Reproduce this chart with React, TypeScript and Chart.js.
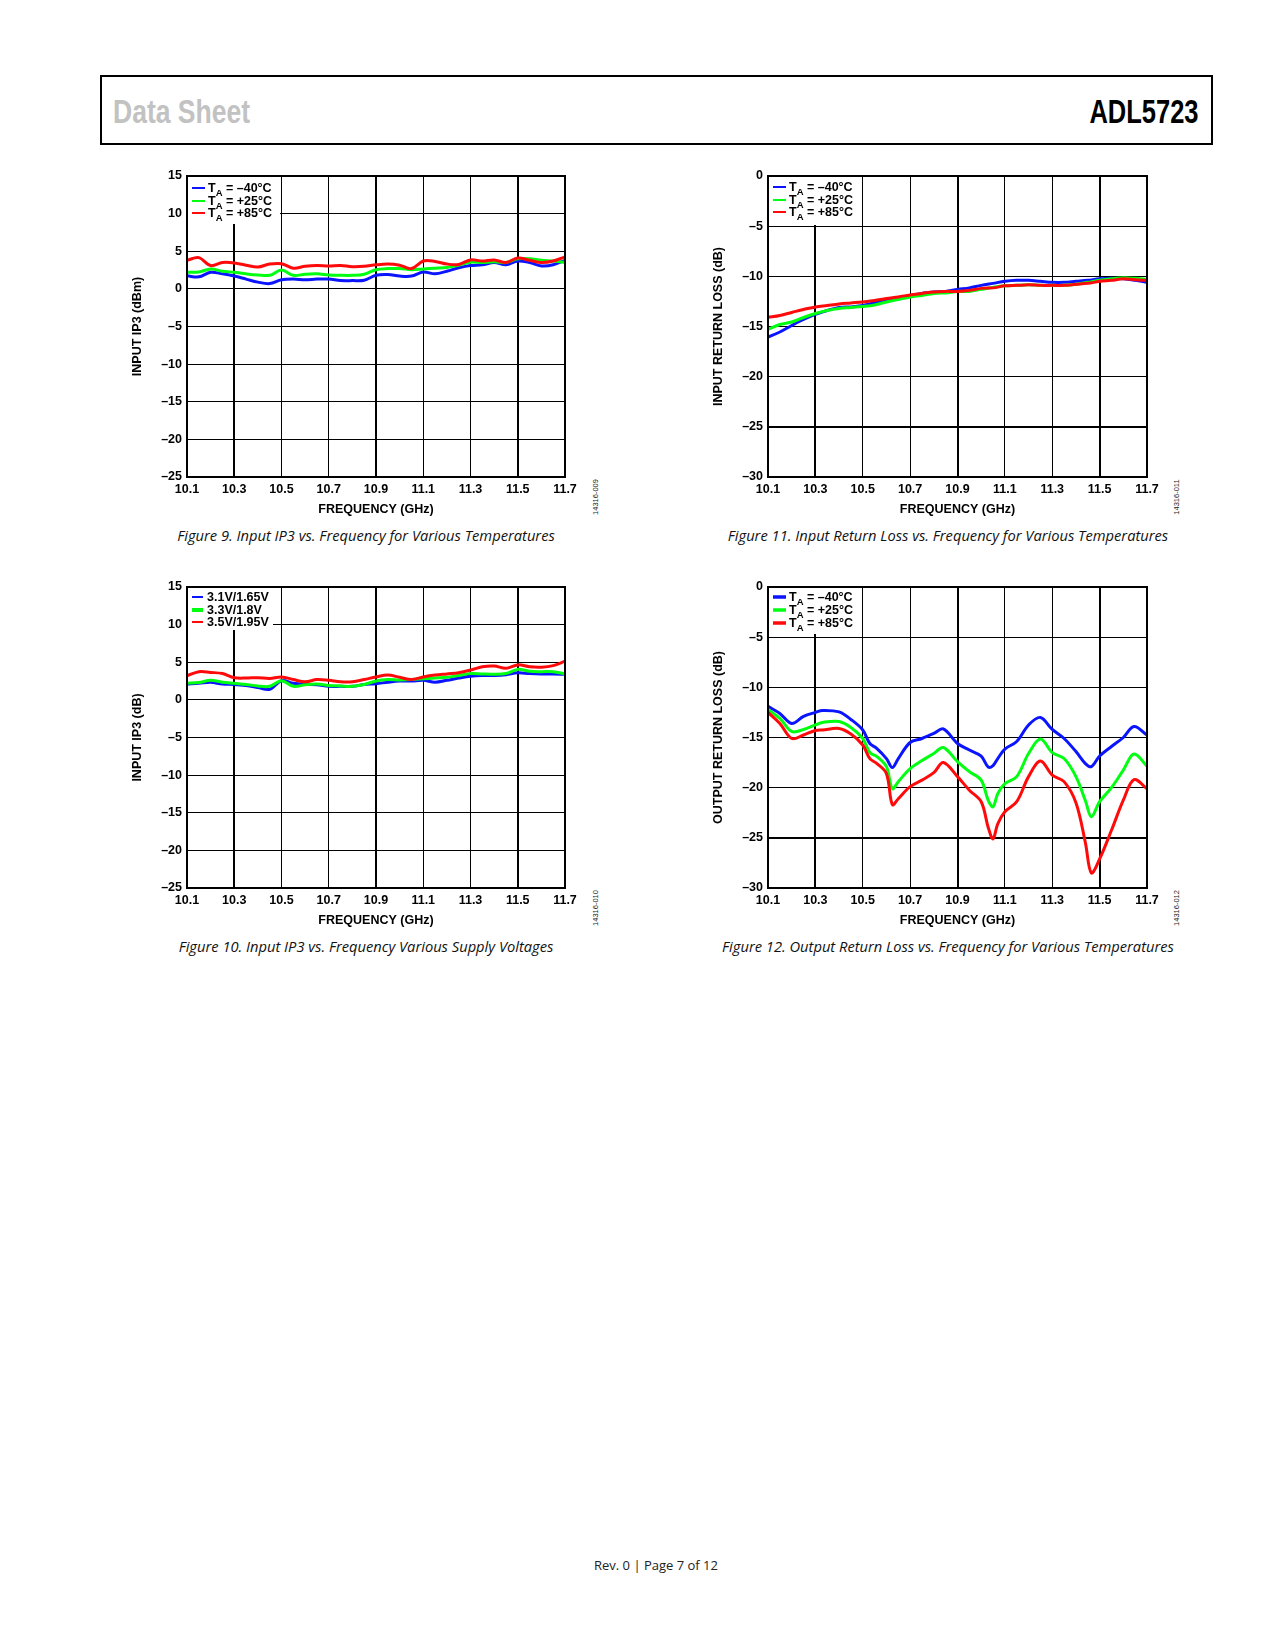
import React, { useEffect, useRef } from "react";
import { Chart, registerables } from "chart.js";

Chart.register(...registerables);

const FONT = '"Liberation Sans", Arial, Helvetica, sans-serif';
Chart.defaults.font.family = FONT;

// ---------- shared axis data ----------
const xTicks = [10.1, 10.3, 10.5, 10.7, 10.9, 11.1, 11.3, 11.5, 11.7];
const thickX = [10.3, 10.9, 11.5];

// ---------- Figure 9: Input IP3 vs frequency, temperatures ----------
const fig9Freq = [
  10.1, 10.15, 10.2, 10.25, 10.3, 10.35, 10.4, 10.45, 10.5, 10.55, 10.6, 10.65, 10.7, 10.75, 10.8, 10.85,
  10.9, 10.95, 11.0, 11.05, 11.1, 11.15, 11.2, 11.25, 11.3, 11.35, 11.4, 11.45, 11.5, 11.55, 11.6, 11.65, 11.7,
];
const fig9Minus40 = [
  1.73, 1.6, 2.2, 2.0, 1.7, 1.3, 0.9, 0.7, 1.2, 1.3, 1.2, 1.3, 1.3, 1.1, 1.1, 1.15,
  1.8, 1.9, 1.7, 1.7, 2.25, 2.0, 2.35, 2.8, 3.1, 3.2, 3.5, 3.2, 3.7, 3.5, 3.05, 3.2, 3.8,
];
const fig9Plus25 = [
  2.2, 2.25, 2.65, 2.35, 2.2, 2.0, 1.85, 1.8, 2.5, 1.8, 1.95, 2.0, 1.85, 1.8, 1.8, 1.95,
  2.55, 2.7, 2.7, 2.55, 2.65, 2.75, 2.85, 3.15, 3.55, 3.5, 3.6, 3.5, 4.0, 4.0, 3.8, 3.7, 3.5,
];
const fig9Plus85 = [
  3.8, 4.15, 3.1, 3.5, 3.45, 3.15, 2.9, 3.3, 3.35, 2.75, 3.0, 3.1, 3.05, 3.1, 2.95, 3.0,
  3.2, 3.3, 3.15, 2.7, 3.7, 3.65, 3.3, 3.25, 3.85, 3.7, 3.85, 3.5, 4.1, 3.8, 3.5, 3.7, 4.25,
];

// ---------- Figure 10: Input IP3 vs frequency, supply voltages ----------
const fig10Freq = fig9Freq;
const fig10V31 = [
  2.1, 2.2, 2.35, 2.1, 2.05, 1.9, 1.65, 1.4, 2.55, 2.2, 2.05, 2.0, 1.8, 1.8, 1.8, 2.05,
  2.15, 2.35, 2.5, 2.5, 2.6, 2.35, 2.6, 2.9, 3.15, 3.25, 3.25, 3.35, 3.6, 3.5, 3.45, 3.45, 3.4,
];
const fig10V33 = [
  2.2, 2.3, 2.6, 2.35, 2.2, 2.05, 1.85, 1.8, 2.55, 1.8, 2.0, 2.1, 1.9, 1.85, 1.8, 2.05,
  2.5, 2.7, 2.65, 2.7, 2.8, 2.9, 3.0, 3.25, 3.5, 3.45, 3.4, 3.5, 4.05, 3.8, 3.75, 3.75, 3.45,
];
const fig10V35 = [
  3.2, 3.75, 3.65, 3.5, 2.95, 2.9, 2.95, 2.85, 3.05, 2.7, 2.4, 2.7, 2.6, 2.4, 2.4, 2.7,
  3.05, 3.3, 3.0, 2.7, 3.05, 3.3, 3.45, 3.6, 3.95, 4.4, 4.5, 4.2, 4.65, 4.4, 4.35, 4.55, 5.15,
];

// ---------- Figure 11: Input return loss ----------
const fig11Freq = fig9Freq;
const fig11Minus40 = [
  -16.05, -15.55, -14.9, -14.3, -13.8, -13.4, -13.1, -13.05, -12.9, -12.65, -12.4, -12.15, -11.9, -11.7, -11.55, -11.5,
  -11.3, -11.15, -10.9, -10.7, -10.5, -10.4, -10.4, -10.5, -10.6, -10.6, -10.5, -10.4, -10.25, -10.2, -10.25, -10.4, -10.6,
];
const fig11Plus25 = [
  -15.3, -14.8, -14.55, -14.1, -13.7, -13.4, -13.2, -13.1, -13.0, -12.85, -12.55, -12.3, -12.05, -11.9, -11.7, -11.65,
  -11.5, -11.5, -11.3, -11.1, -10.95, -10.9, -10.85, -10.9, -10.9, -10.9, -10.8, -10.6, -10.4, -10.25, -10.15, -10.2, -10.3,
];
const fig11Plus85 = [
  -14.1, -13.9, -13.6, -13.3, -13.05, -12.9, -12.75, -12.65, -12.55, -12.4, -12.2, -12.05, -11.85, -11.7, -11.55, -11.5,
  -11.5, -11.4, -11.2, -11.15, -10.95, -10.9, -10.85, -10.9, -10.9, -10.9, -10.8, -10.7, -10.5, -10.4, -10.25, -10.35, -10.4,
];

// ---------- Figure 12: Output return loss ----------
const fig12Freq = [
  10.1, 10.15, 10.2, 10.25, 10.3, 10.33, 10.4, 10.45, 10.5, 10.53, 10.56, 10.6, 10.625, 10.65, 10.7, 10.75, 10.8, 10.84,
  10.9, 10.95, 11.0, 11.03, 11.05, 11.07, 11.1, 11.15, 11.2, 11.25, 11.3, 11.35, 11.4, 11.44, 11.465, 11.5, 11.55, 11.6,
  11.645, 11.7,
];
const fig12Minus40 = [
  -11.9, -12.6, -13.6, -12.9, -12.5, -12.3, -12.45, -13.2, -14.25, -15.6, -16.1, -17.1, -18.0, -17.1, -15.5, -15.1, -14.6, -14.15,
  -15.6, -16.25, -16.85, -17.95, -17.8, -17.1, -16.15, -15.4, -13.75, -13.0, -14.2, -15.1, -16.4, -17.6, -17.9, -16.85, -15.9, -15.0,
  -13.9, -14.75,
];
const fig12Plus25 = [
  -12.2, -13.1, -14.4, -14.2, -13.75, -13.5, -13.4, -14.0, -15.1, -16.5, -16.9, -17.9, -20.1, -19.4, -18.1, -17.3, -16.6, -16.0,
  -17.4, -18.4, -19.25, -21.3, -21.9, -20.6, -19.6, -18.9, -16.6, -15.15, -16.5, -17.1, -18.9, -21.3, -22.9, -21.4, -20.0, -18.25,
  -16.65, -17.85,
];
const fig12Plus85 = [
  -12.5, -13.6, -15.1, -14.75, -14.3, -14.25, -14.1, -14.65, -15.75, -17.1, -17.6, -18.6, -21.7, -21.1, -19.9, -19.25, -18.5, -17.5,
  -18.9, -20.25, -21.4, -24.0, -25.1, -23.6, -22.4, -21.4, -18.9, -17.35, -18.75, -19.4, -21.5, -25.5, -28.5, -27.1, -24.25, -21.25,
  -19.2, -20.1,
];

const BLUE = "#0a14ff";
const GREEN = "#00ff10";
const RED = "#ff0a0a";

type Series = { data: number[]; color: string; width: number; order: number };
type LegendItem = { color: string; lw: number; sub: boolean; text: string };
type Cfg = {
  left: number;
  top: number;
  right: number;
  bottom: number;
  yMin: number;
  yMax: number;
  yTitle: string;
  thickY: number[];
  freq: number[];
  series: Series[];
  legend: { w: number; h: number; rows: number[]; lx0: number; lx1: number; tx: number; items: LegendItem[] };
};

const PADL = 90;
const PADT = 15;
const PADR = 20;
const PADB = 45;
const tickFont = { family: FONT, size: 12.5, weight: "bold" as const };

function ChartBox({ cfg }: { cfg: Cfg }) {
  const ref = useRef<HTMLCanvasElement | null>(null);
  const W = cfg.right - cfg.left + PADL + PADR;
  const H = cfg.bottom - cfg.top + PADT + PADB;

  useEffect(() => {
    if (!ref.current) return;
    const framePlugin = {
      id: "frameLegend",
      afterDatasetsDraw(chart: any) {
        const { ctx, chartArea: a } = chart;
        const lg = cfg.legend;
        ctx.save();
        ctx.fillStyle = "#fff";
        ctx.fillRect(a.left + 1, a.top + 1, lg.w, lg.h);
        const mainFont = `bold 12.5px ${FONT}`;
        const subFont = `bold 9.5px ${FONT}`;
        lg.items.forEach((it, i) => {
          const y = a.top + lg.rows[i];
          ctx.strokeStyle = it.color;
          ctx.lineWidth = it.lw;
          ctx.beginPath();
          ctx.moveTo(a.left + lg.lx0, y);
          ctx.lineTo(a.left + lg.lx1, y);
          ctx.stroke();
          ctx.fillStyle = "#000";
          ctx.textAlign = "left";
          ctx.textBaseline = "middle";
          ctx.font = mainFont;
          let x = a.left + lg.tx;
          const ty = y + 1;
          if (it.sub) {
            ctx.fillText("T", x, ty);
            x += ctx.measureText("T").width;
            ctx.font = subFont;
            ctx.fillText("A", x, ty + 4);
            x += ctx.measureText("A").width;
            ctx.font = mainFont;
            ctx.fillText(it.text, x, ty);
          } else {
            ctx.fillText(it.text, x, ty);
          }
        });
        ctx.strokeStyle = "#000";
        ctx.lineWidth = 2;
        ctx.strokeRect(a.left, a.top, a.right - a.left, a.bottom - a.top);
        ctx.restore();
      },
    };

    const chart = new Chart(ref.current, {
      type: "line",
      data: {
        datasets: cfg.series.map((s) => ({
          data: cfg.freq.map((f, i) => ({ x: f, y: s.data[i] })),
          borderColor: s.color,
          borderWidth: s.width,
          pointRadius: 0,
          tension: 0.35,
          fill: false,
          order: s.order,
        })),
      },
      options: {
        animation: false,
        responsive: false,
        devicePixelRatio: 1,
        layout: { padding: { left: 0, top: PADT, right: PADR, bottom: 0 } },
        plugins: { legend: { display: false }, tooltip: { enabled: false } },
        scales: {
          x: {
            type: "linear",
            min: 10.1,
            max: 11.7,
            afterBuildTicks: (ax: any) => {
              ax.ticks = xTicks.map((v) => ({ value: v }));
            },
            afterFit: (ax: any) => {
              ax.height = PADB;
            },
            ticks: {
              autoSkip: false,
              maxRotation: 0,
              padding: 5,
              color: "#000",
              font: tickFont,
              callback: (v: any) => Number(v).toFixed(1),
            },
            grid: {
              color: "#000",
              drawTicks: false,
              lineWidth: (c: any) =>
                c.tick && thickX.some((t) => Math.abs(t - c.tick.value) < 1e-6) ? 2 : 1,
            },
            border: { display: false },
            title: {
              display: true,
              text: "FREQUENCY (GHz)",
              color: "#000",
              font: tickFont,
              padding: { top: 0, bottom: 5 },
            },
          },
          y: {
            type: "linear",
            min: cfg.yMin,
            max: cfg.yMax,
            afterFit: (ax: any) => {
              ax.width = PADL;
            },
            ticks: {
              stepSize: 5,
              padding: 5,
              color: "#000",
              font: tickFont,
              callback: (v: any) => (Number(v) < 0 ? "\u2013" + Math.abs(Number(v)) : String(v)),
            },
            grid: {
              color: "#000",
              drawTicks: false,
              lineWidth: (c: any) =>
                c.tick && cfg.thickY.some((t) => Math.abs(t - c.tick.value) < 1e-6) ? 2 : 1,
            },
            border: { display: false },
            title: {
              display: true,
              text: cfg.yTitle,
              color: "#000",
              font: tickFont,
              padding: { top: 33, bottom: 0 },
            },
          },
        },
      },
      plugins: [framePlugin],
    } as any);
    return () => chart.destroy();
  }, []);

  return (
    <canvas
      ref={ref}
      width={W}
      height={H}
      style={{ position: "absolute", left: cfg.left - PADL, top: cfg.top - PADT, width: W, height: H }}
    />
  );
}

const tempItems = (lw: number): LegendItem[] => [
  { color: BLUE, lw, sub: true, text: " = \u201340\u00B0C" },
  { color: GREEN, lw, sub: true, text: " = +25\u00B0C" },
  { color: RED, lw, sub: true, text: " = +85\u00B0C" },
];

const fig9: Cfg = {
  left: 187, top: 176, right: 565, bottom: 477,
  yMin: -25, yMax: 15, yTitle: "INPUT IP3 (dBm)", thickY: [],
  freq: fig9Freq,
  series: [
    { data: fig9Minus40, color: BLUE, width: 3, order: 2 },
    { data: fig9Plus25, color: GREEN, width: 3, order: 1 },
    { data: fig9Plus85, color: RED, width: 3, order: 0 },
  ],
  legend: { w: 92, h: 47, rows: [12, 25, 37], lx0: 5, lx1: 18, tx: 21, items: tempItems(2) },
};

const fig11: Cfg = {
  left: 768, top: 176, right: 1147, bottom: 477,
  yMin: -30, yMax: 0, yTitle: "INPUT RETURN LOSS (dB)", thickY: [-25],
  freq: fig11Freq,
  series: [
    { data: fig11Minus40, color: BLUE, width: 3, order: 2 },
    { data: fig11Plus25, color: GREEN, width: 3, order: 1 },
    { data: fig11Plus85, color: RED, width: 3, order: 0 },
  ],
  legend: { w: 93, h: 48, rows: [11, 24, 36], lx0: 5, lx1: 18, tx: 21, items: tempItems(2) },
};

const fig10: Cfg = {
  left: 187, top: 587, right: 565, bottom: 888,
  yMin: -25, yMax: 15, yTitle: "INPUT IP3 (dB)", thickY: [],
  freq: fig10Freq,
  series: [
    { data: fig10V31, color: BLUE, width: 3, order: 2 },
    { data: fig10V33, color: GREEN, width: 3, order: 1 },
    { data: fig10V35, color: RED, width: 3, order: 0 },
  ],
  legend: {
    w: 85, h: 42, rows: [10, 23, 35], lx0: 5, lx1: 16, tx: 20,
    items: [
      { color: BLUE, lw: 2, sub: false, text: "3.1V/1.65V" },
      { color: GREEN, lw: 4, sub: false, text: "3.3V/1.8V" },
      { color: RED, lw: 2, sub: false, text: "3.5V/1.95V" },
    ],
  },
};

const fig12: Cfg = {
  left: 768, top: 587, right: 1147, bottom: 888,
  yMin: -30, yMax: 0, yTitle: "OUTPUT RETURN LOSS (dB)", thickY: [-25],
  freq: fig12Freq,
  series: [
    { data: fig12Minus40, color: BLUE, width: 3, order: 2 },
    { data: fig12Plus25, color: GREEN, width: 3, order: 1 },
    { data: fig12Plus85, color: RED, width: 3, order: 0 },
  ],
  legend: { w: 93, h: 46, rows: [10, 23, 36], lx0: 5, lx1: 18, tx: 21, items: tempItems(3.5) },
};

function Caption({ cx, cy, text }: { cx: number; cy: number; text: string }) {
  return (
    <div
      style={{
        position: "absolute",
        left: cx - 300,
        top: cy - 10,
        width: 600,
        height: 20,
        lineHeight: "20px",
        textAlign: "center",
        fontFamily: '"Open Sans", "Noto Sans", sans-serif',
        fontStyle: "italic",
        fontSize: 14.7,
        color: "#111",
        whiteSpace: "nowrap",
      }}
    >
      {text}
    </div>
  );
}

function SideId({ cx, cy, text }: { cx: number; cy: number; text: string }) {
  return (
    <div
      style={{
        position: "absolute",
        left: cx - 30,
        top: cy - 5,
        width: 60,
        height: 10,
        lineHeight: "10px",
        textAlign: "center",
        fontFamily: FONT,
        fontSize: 7.5,
        color: "#222",
        transform: "rotate(-90deg)",
        whiteSpace: "nowrap",
      }}
    >
      {text}
    </div>
  );
}

export default function App() {
  return (
    <div
      style={{
        position: "absolute",
        left: 0,
        top: 0,
        width: 1275,
        height: 1650,
        background: "#fff",
        overflow: "hidden",
      }}
    >
      <div
        style={{
          position: "absolute",
          left: 100,
          top: 75,
          width: 1113,
          height: 70,
          boxSizing: "border-box",
          border: "2px solid #000",
        }}
      />
      <div
        style={{
          position: "absolute",
          left: 113,
          top: 94,
          height: 34,
          lineHeight: "34px",
          fontFamily: FONT,
          fontWeight: "bold",
          fontSize: 34,
          color: "#c2c2c2",
          transform: "scaleX(0.78)",
          transformOrigin: "left center",
          whiteSpace: "nowrap",
        }}
      >
        Data Sheet
      </div>
      <div
        style={{
          position: "absolute",
          right: 1275 - 1199,
          top: 94,
          height: 34,
          lineHeight: "34px",
          fontFamily: FONT,
          fontWeight: "bold",
          fontSize: 34,
          color: "#000",
          transform: "scaleX(0.75)",
          transformOrigin: "right center",
          whiteSpace: "nowrap",
        }}
      >
        ADL5723
      </div>

      <ChartBox cfg={fig9} />
      <ChartBox cfg={fig11} />
      <ChartBox cfg={fig10} />
      <ChartBox cfg={fig12} />

      <SideId cx={596} cy={497} text="14316-009" />
      <SideId cx={1177} cy={497} text="14316-011" />
      <SideId cx={596} cy={908} text="14316-010" />
      <SideId cx={1177} cy={908} text="14316-012" />

      <Caption cx={366} cy={535} text="Figure 9. Input IP3 vs. Frequency for Various Temperatures" />
      <Caption cx={948} cy={535} text="Figure 11. Input Return Loss vs. Frequency for Various Temperatures" />
      <Caption cx={366} cy={946} text="Figure 10. Input IP3 vs. Frequency Various Supply Voltages" />
      <Caption cx={948} cy={946} text="Figure 12. Output Return Loss vs. Frequency for Various Temperatures" />

      <div
        style={{
          position: "absolute",
          left: 556,
          top: 1556,
          width: 200,
          height: 18,
          lineHeight: "18px",
          textAlign: "center",
          fontFamily: '"Open Sans", "Noto Sans", sans-serif',
          fontSize: 13,
          color: "#222",
          whiteSpace: "nowrap",
        }}
      >
        Rev. 0 | Page 7 of 12
      </div>
    </div>
  );
}
